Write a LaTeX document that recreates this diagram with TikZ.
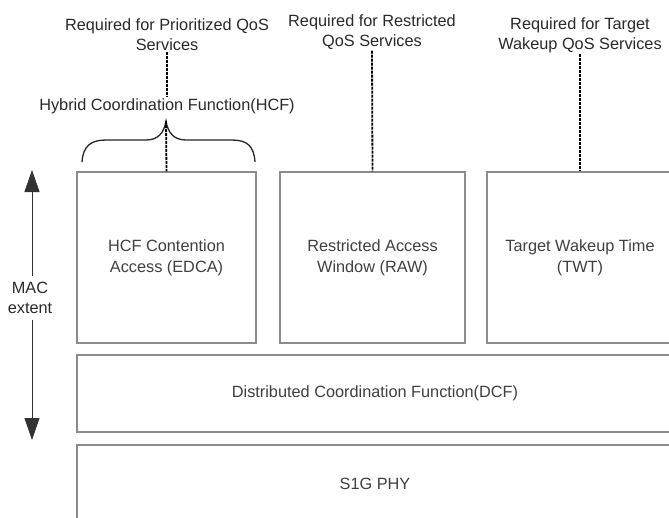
\documentclass[tikz,border=0pt]{standalone}
\usepackage{fontspec}
\setmainfont{Liberation Sans}
\usetikzlibrary{arrows.meta}
\definecolor{boxline}{HTML}{8C8C8C}
\definecolor{boxtext}{HTML}{404040}
\definecolor{toptext}{HTML}{2A2A2A}
\tikzset{
  layer/.style={draw=boxline, line width=1.4pt, text=boxtext, align=center,
    font=\fontsize{16.3}{21}\selectfont, inner sep=0pt},
  toplabel/.style={text=toptext, align=center, inner sep=1pt,
    font=\fontsize{16.3}{20}\selectfont},
  qosline/.style={draw=black, line width=1.8pt, dash pattern=on 3pt off 1pt},
  bracestroke/.style={draw=black!85, line width=1.3pt},
  extentarrow/.style={draw=black!80, line width=0.9pt,
    -{Triangle[width=15pt,length=22pt]}}
}
\begin{document}
\begin{tikzpicture}[x=1pt,y=-1pt]
\useasboundingbox (0,0) rectangle (669,517);
\fill[white] (0,0) rectangle (669,517);
\clip (0,0) rectangle (669,517);

% upper MAC blocks
\node[layer, minimum width=179pt, minimum height=171pt] (edca) at (166.5,257.5)
  {HCF Contention\\Access (EDCA)};
\node[layer, minimum width=185pt, minimum height=171pt] (raw) at (372.5,257.5)
  {Restricted Access\\Window (RAW)};
\node[layer, minimum width=186pt, minimum height=171pt] (twt) at (580,257.5)
  {Target Wakeup Time\\(TWT)};

% lower layers
\node[layer, minimum width=596pt, minimum height=77pt] (dcf) at (375,393.5)
  {Distributed Coordination Function(DCF)};
\node[layer, minimum width=596pt, minimum height=78pt] (phy) at (375,484)
  {S1G PHY};

% service requirement labels
\node[toplabel] (prio) at (167,35) {Required for Prioritized QoS\\Services};
\node[toplabel] (restr) at (372,32) {Required for Restricted\\QoS Services};
\node[toplabel] (targ) at (580,35) {Required for Target\\Wakeup QoS Services};
\node[toplabel] (hcf) at (167,106) {Hybrid Coordination Function(HCF)};

% HCF brace over the EDCA block
\coordinate (bracetip) at (166,121);
\draw[bracestroke] (82,162) .. controls (83,146) and (91,140) .. (106,140)
  -- (146,140) .. controls (158,140) and (164,133) .. (bracetip)
  .. controls (168,133) and (174,140) .. (186,140)
  -- (232,140) .. controls (247,140) and (254,146) .. (255,162);

% dashed requirement links
\draw[qosline] (prio.south) -- (hcf.north);
\draw[qosline] (bracetip) -- (edca.north);
\draw[qosline] (restr.south) -- (raw.north);
\draw[qosline] (targ.south) -- (twt.north);

% MAC extent arrow
\node[text=toptext, align=center, inner sep=0pt,
  font=\fontsize{16.3}{20}\selectfont] (mac) at (30,298) {MAC\\extent};
\coordinate (mactop) at (32,170);
\coordinate (macbot) at (32,440);
\draw[extentarrow] (mac.north -| mactop) ++(0,-6) -- (mactop);
\draw[extentarrow] (mac.south -| macbot) ++(0,6) -- (macbot);
\end{tikzpicture}
\end{document}
